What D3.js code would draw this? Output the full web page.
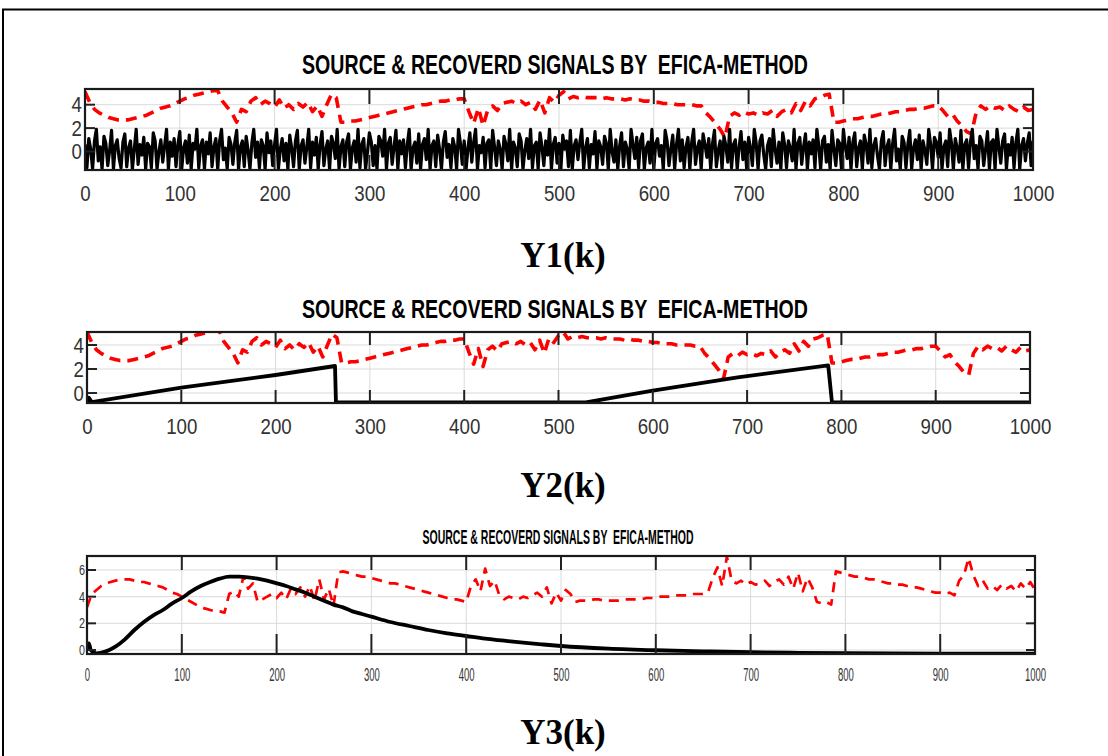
<!DOCTYPE html>
<html><head><meta charset="utf-8">
<script src="https://cdn.jsdelivr.net/npm/d3@7"></script>
<style>body{margin:0;background:#fff}svg{display:block}</style>
</head><body>
<script>
// ---------- DATA ----------
const xTicks = [0,100,200,300,400,500,600,700,800,900,1000];
const yTicks12 = [0,2,4];
const yTicks3 = [0,2,4,6];
const titleText = "SOURCE & RECOVERD SIGNALS BY  EFICA-METHOD";
const panelLabels = ["Y1(k)","Y2(k)","Y3(k)"];

// recovered (red dashed) signal of panels 1 and 2, sampled every 5 steps
const recoveredStep = 5;
const recovered12 = [
5.1,4.2,3.6,3.3,3.1,2.9,2.8,2.7,2.7,2.7,2.8,2.9,3.0,3.1,3.3,3.5,3.7,3.8,3.9,4.1,
4.3,4.5,4.6,4.8,4.9,5.0,5.1,5.2,5.2,4.3,3.8,3.3,2.5,3.6,3.4,4.3,4.6,4.0,4.3,4.1,
3.8,4.4,3.7,4.0,3.6,4.1,3.8,4.2,3.4,3.9,3.0,4.0,4.9,4.6,2.5,2.5,2.6,2.6,2.7,2.8,
2.9,3.0,3.1,3.2,3.3,3.4,3.5,3.6,3.7,3.8,3.9,4.0,4.0,4.1,4.2,4.3,4.3,4.4,4.4,4.5,
4.5,3.4,2.4,3.7,2.2,3.6,3.9,3.5,4.1,4.2,4.3,4.1,4.3,4.0,4.2,3.6,4.4,3.3,4.6,4.2,
4.8,5.1,4.5,4.7,4.6,4.7,4.6,4.6,4.6,4.5,4.6,4.5,4.5,4.5,4.4,4.5,4.4,4.4,4.3,4.3,
4.2,4.2,4.1,4.1,4.1,4.0,4.0,4.0,4.0,3.9,3.9,3.3,2.9,2.4,1.9,1.2,3.0,3.3,3.1,3.4,
3.2,3.3,3.1,3.3,3.2,3.5,3.0,3.4,3.6,3.3,4.1,3.5,4.3,3.9,4.5,4.6,4.8,4.9,2.5,2.5,
2.6,2.7,2.8,2.8,2.9,3.0,3.0,3.1,3.2,3.2,3.3,3.4,3.4,3.5,3.6,3.6,3.7,3.7,3.8,3.9,
3.9,3.5,3.0,3.2,2.6,2.2,1.7,1.5,3.3,3.9,3.6,3.9,3.7,3.8,3.5,3.9,3.6,3.4,3.8,3.5,
3.6];

// recovered (red dashed) signal of panel 3, sampled every 5 steps
const recovered3 = [
3.2,4.2,4.5,4.8,5.0,5.1,5.2,5.3,5.3,5.3,5.2,5.1,5.1,5.0,4.9,4.8,4.7,4.5,4.3,4.2,
4.0,3.8,3.6,3.4,3.2,3.1,3.0,2.9,2.9,2.8,4.2,4.4,4.0,5.5,4.6,5.0,3.6,3.8,4.0,4.2,
3.9,4.3,3.8,4.6,4.2,4.7,4.0,4.8,3.7,5.3,3.8,4.6,3.3,5.8,5.9,5.8,5.7,5.6,5.5,5.5,
5.4,5.3,5.2,5.1,5.0,5.0,4.9,4.8,4.7,4.6,4.5,4.4,4.3,4.2,4.1,4.0,3.9,3.8,3.8,3.7,
3.6,4.8,5.3,4.4,6.1,4.8,5.2,4.1,3.8,4.0,3.9,3.8,4.0,3.9,4.1,4.3,4.0,4.7,3.5,4.3,
3.7,4.5,4.2,3.6,3.7,3.7,3.7,3.8,3.8,3.7,3.7,3.7,3.7,3.8,3.8,3.8,3.8,3.8,3.9,3.9,
3.9,4.0,4.0,4.0,4.1,4.1,4.1,4.1,4.2,4.2,4.2,4.3,5.4,6.2,4.8,7.0,5.2,5.0,5.2,4.9,
5.1,4.9,5.0,5.2,4.8,5.1,5.3,4.9,5.5,4.6,5.8,4.4,5.4,4.7,3.6,3.5,3.6,3.4,5.9,5.8,
5.7,5.6,5.5,5.5,5.4,5.3,5.3,5.2,5.1,5.0,5.0,4.9,4.9,4.8,4.7,4.7,4.6,4.5,4.4,4.3,
4.3,4.2,4.3,4.1,5.2,5.6,6.9,5.6,4.8,5.2,4.6,4.8,4.5,4.9,4.6,4.8,4.4,5.0,4.6,5.1,
4.5];

// source 1 (black noise), sampled every 2 steps
const source1Step = 2;
const source1 = [
0.6,-1.4,1.1,0.2,-1.5,0.9,1.9,-0.8,0.4,-1.5,1.3,0.7,-1.2,0.1,1.8,-1.5,0.5,1.0,-0.6,-1.4,
0.8,1.5,-1.3,0.3,0.9,-1.5,0.2,1.9,-1.1,0.6,-0.3,1.2,-1.5,0.7,0.4,-1.4,1.6,0.9,-1.5,0.0,
1.0,-0.9,0.5,1.9,-1.5,0.8,-0.4,1.1,-1.3,0.6,1.7,-1.5,0.3,0.9,-1.0,1.4,-1.5,0.7,0.2,1.9,
-1.4,0.5,1.0,-1.5,0.8,-0.2,1.6,-1.3,0.4,1.1,-1.5,0.9,1.9,-0.7,0.3,-1.5,1.2,0.6,-1.1,0.8,
1.8,-1.5,0.4,0.9,-1.3,1.3,0.1,-1.5,0.7,1.9,-0.5,0.8,-1.4,1.0,0.5,-1.5,1.6,-0.1,0.9,-1.2,
0.6,1.9,-1.5,0.2,1.1,-0.8,0.7,-1.5,1.4,0.3,-1.3,0.9,1.8,-1.5,0.5,1.0,-1.0,0.4,1.9,-1.4,
0.8,-0.3,1.2,-1.5,0.6,1.7,-1.2,0.2,0.9,-1.5,1.3,0.7,-0.6,1.9,-1.5,0.4,1.0,-1.3,0.8,1.5,
-1.5,0.3,0.9,-0.9,1.9,-1.4,0.6,1.1,-1.5,0.0,1.6,0.8,-1.2,0.5,-1.5,1.3,0.9,-0.4,1.9,-1.5,
0.7,1.2,-1.1,0.4,1.8,-1.5,0.9,-0.2,1.0,-1.4,0.6,1.9,-1.5,0.3,0.8,-1.0,1.5,-1.5,0.6,1.1,
-0.7,1.9,-1.5,0.5,0.9,-1.3,1.4,0.2,-1.5,0.8,1.7,-0.5,0.6,-1.4,1.1,0.4,-1.5,1.9,0.7,-1.1,
0.9,-1.5,0.3,1.6,-0.9,0.8,1.9,-1.5,0.5,-0.1,1.2,-1.4,0.7,1.0,-1.5,1.8,0.4,-1.2,0.9,0.2,
-1.5,1.3,0.6,-0.8,1.9,-1.5,0.8,0.3,-1.3,1.5,0.9,-1.5,0.1,1.1,-0.6,1.9,-1.4,0.5,0.8,-1.5,
1.6,0.4,-1.2,0.9,-0.3,1.9,-1.5,0.6,1.2,-1.0,0.7,-1.5,1.4,0.2,0.9,-1.3,1.8,-1.5,0.5,1.0,
-0.7,0.8,1.9,-1.5,0.3,1.1,-1.4,0.6,-0.2,1.7,-1.5,0.9,0.4,-1.1,1.3,0.7,-1.5,1.9,0.0,-0.9,
1.0,-1.5,0.5,1.6,-1.3,0.8,0.2,-1.5,1.9,0.6,-0.6,1.2,-1.4,0.9,1.5,-1.5,0.3,0.8,-1.0,1.9,
-1.5,0.7,1.1,-0.4,0.5,-1.5,1.8,0.9,-1.2,0.2,1.4,-1.5,0.6,1.9,-0.8,1.0,-1.4,0.4,1.2,-1.5,
0.8,1.9,-1.1,0.3,0.9,-1.5,1.5,0.6,-0.5,1.1,-1.5,0.7,1.8,-1.3,0.1,0.9,-1.5,1.3,0.5,-0.9,
1.9,-1.4,0.6,1.0,-1.5,0.4,1.7,-0.7,0.8,-1.5,1.2,0.3,-1.2,1.9,0.7,-1.5,0.9,1.4,-0.3,-1.5,
0.5,1.1,-1.3,1.9,0.2,-1.0,0.8,-1.5,1.6,0.6,-1.4,0.9,0.3,-0.8,1.9,-1.5,0.7,1.2,-1.1,0.4,
1.5,-1.5,0.8,-0.2,1.0,-1.4,1.9,0.5,-1.5,0.9,1.3,-0.9,0.6,-1.5,1.8,0.2,-1.2,1.0,0.7,-1.5,
1.9,0.4,-0.6,1.2,-1.5,0.8,1.6,-1.3,0.3,0.9,-1.5,1.4,0.6,-1.0,1.9,-1.4,0.5,1.1,-0.4,-1.5,
0.9,1.7,-1.2,0.4,1.0,-1.5,0.7,1.9,-0.8,0.2,-1.5,1.3,0.8,-1.4,0.6,1.8,-1.5,0.3,1.0,-0.7,
1.4,-1.5,0.9,0.1,-1.1,1.9,0.6,-1.5,1.2,0.8,-0.5,1.6,-1.5,0.4,0.9,-1.3,1.9,0.7,-1.5,1.1,
0.3,-0.9,1.8,-1.5,0.6,1.0,-1.4,0.8,1.9,-0.6,0.5,-1.5,1.3,0.9,-1.2,0.2,1.7,-1.5,0.8,1.0,
-1.5,1.9,0.4,-1.0,0.9,1.5,-1.5,0.6,-0.3,1.2,-1.4,0.8,1.9,-1.5,0.5,1.1,-0.8,0.7,1.6,-1.2,
0.9];

// source 2 (black sawtooth) breakpoints
const source2K = [0,2,5,100,200,263,264,529,600,690,786,790,1000];
const source2V = [-0.78,-0.4,-0.75,0.45,1.5,2.25,-0.78,-0.78,0.2,1.3,2.3,-0.78,-0.78];

// source 3 (black smooth pulse)
const source3K = [0,2,4,10,20,30,40,50,60,70,80,90,100,110,120,130,140,150,160,170,180,190,200,210,220,230,240,250,260,270,280,290,300,320,340,360,380,400,420,440,460,480,500,550,600,650,700,750,800,850,900,950,1000];
const source3V = [0.0,0.5,0.0,-0.25,-0.1,0.25,0.8,1.5,2.1,2.6,3.0,3.5,3.9,4.4,4.8,5.1,5.35,5.5,5.5,5.45,5.35,5.2,5.0,4.8,4.55,4.3,4.0,3.7,3.4,3.2,2.9,2.7,2.5,2.1,1.8,1.5,1.25,1.05,0.85,0.7,0.55,0.42,0.3,0.1,-0.02,-0.1,-0.17,-0.21,-0.24,-0.26,-0.27,-0.28,-0.28];

// ---------- DRAW ----------
const W = 1108, H = 756;
const svg = d3.select("body").append("svg").attr("width", W).attr("height", H);
svg.append("rect").attr("width", W).attr("height", H).attr("fill", "#fff");
svg.append("rect").attr("x", 3).attr("y", 9.5).attr("width", 1300).attr("height", 900)
  .attr("fill", "none").attr("stroke", "#000").attr("stroke-width", 2);

const NARROW = "'Liberation Sans Narrow','Arial Narrow','Liberation Sans',sans-serif";

const panels = [
  { left:85, right:1033, top:89, bottom:170, yDomain:[-1.58,5.34], yTicks:yTicks12,
    titleY:74, titleSize:27, titleW:506, titleX:555,
    tickFont:22, xPad:15, yPad:3, tickTop:15, tickBot:15, tickY:10,
    labelY:267, xLabW:10.4, yLabW:10.4, yFont:22,
    red: recovered12, redW:3.6, redDash:"11,7",
    black: source1.map((v,i)=>[i*source1Step, v]), blackW:3.2, curve:d3.curveLinear },
  { left:87, right:1030, top:332, bottom:403, yDomain:[-0.83,5.08], yTicks:yTicks12,
    titleY:318, titleSize:25, titleW:506, titleX:555,
    tickFont:22, xPad:15, yPad:3, tickTop:13, tickBot:13, tickY:10,
    labelY:497, xLabW:10.4, yLabW:10.4, yFont:22,
    red: recovered12, redW:3.6, redDash:"11,7",
    black: source2K.map((k,i)=>[k, source2V[i]]), blackW:3.8, curve:d3.curveLinear },
  { left:87, right:1035, top:556, bottom:654, yDomain:[-0.3,7.05], yTicks:yTicks3,
    titleY:544, titleSize:20, titleW:271, titleX:558,
    tickFont:18, xPad:14, yPad:2, tickTop:14, tickBot:20, tickY:9,
    labelY:744, xLabW:5.3, yLabW:6, yFont:14,
    red: recovered3, redW:2.7, redDash:"10,7",
    black: source3K.map((k,i)=>[k, source3V[i]]), blackW:3.8, curve:d3.curveMonotoneX }
];

panels.forEach((p, pi) => {
  const x = d3.scaleLinear().domain([0,1000]).range([p.left, p.right]);
  const y = d3.scaleLinear().domain(p.yDomain).range([p.bottom, p.top]);
  const g = svg.append("g");

  // title
  g.append("text").attr("x", p.titleX).attr("y", p.titleY).attr("text-anchor","middle")
    .attr("font-family", NARROW).attr("font-weight","bold").attr("font-size", p.titleSize)
    .attr("textLength", p.titleW).attr("lengthAdjust","spacingAndGlyphs")
    .attr("fill","#000").style("white-space","pre").text(titleText);

  // grid
  g.selectAll(".gx").data(xTicks).join("line")
    .attr("x1", d=>x(d)).attr("x2", d=>x(d)).attr("y1", p.top).attr("y2", p.bottom)
    .attr("stroke","#dadada").attr("stroke-width",1);
  g.selectAll(".gy").data(p.yTicks).join("line")
    .attr("y1", d=>y(d)).attr("y2", d=>y(d)).attr("x1", p.left).attr("x2", p.right)
    .attr("stroke","#dadada").attr("stroke-width",1);

  // clip
  const cid = "clip"+pi;
  svg.append("clipPath").attr("id", cid).append("rect")
    .attr("x", p.left).attr("y", p.top).attr("width", p.right-p.left).attr("height", p.bottom-p.top);
  const plot = g.append("g").attr("clip-path", `url(#${cid})`);

  // red recovered
  const redLine = d3.line().x((d,i)=>x(i*recoveredStep)).y(d=>y(d));
  plot.append("path").attr("d", redLine(p.red)).attr("fill","none")
    .attr("stroke","#ff0000").attr("stroke-width", p.redW).attr("stroke-dasharray", p.redDash)
    .attr("stroke-linejoin","round");

  // black source
  const blackLine = d3.line().x(d=>x(d[0])).y(d=>y(d[1])).curve(p.curve);
  plot.append("path").attr("d", blackLine(p.black)).attr("fill","none")
    .attr("stroke","#000").attr("stroke-width", p.blackW).attr("stroke-linejoin","round");

  // inner ticks
  g.selectAll(".tt").data(xTicks).join("line")
    .attr("x1", d=>x(d)).attr("x2", d=>x(d)).attr("y1", p.top).attr("y2", p.top+p.tickTop)
    .attr("stroke","#222").attr("stroke-width",2);
  g.selectAll(".tb").data(xTicks).join("line")
    .attr("x1", d=>x(d)).attr("x2", d=>x(d)).attr("y1", p.bottom).attr("y2", p.bottom-p.tickBot)
    .attr("stroke","#222").attr("stroke-width",2);
  g.selectAll(".tl").data(p.yTicks).join("line")
    .attr("y1", d=>y(d)).attr("y2", d=>y(d)).attr("x1", p.left).attr("x2", p.left+p.tickY)
    .attr("stroke","#222").attr("stroke-width",2);
  g.selectAll(".tr").data(p.yTicks).join("line")
    .attr("y1", d=>y(d)).attr("y2", d=>y(d)).attr("x1", p.right).attr("x2", p.right-p.tickY)
    .attr("stroke","#222").attr("stroke-width",2);

  // box
  g.append("rect").attr("x", p.left).attr("y", p.top).attr("width", p.right-p.left)
    .attr("height", p.bottom-p.top).attr("fill","none").attr("stroke","#1a1a1a").attr("stroke-width",2.2);

  // axis labels
  const ax = g.append("g").attr("transform", `translate(0,${p.bottom})`)
    .call(d3.axisBottom(x).tickValues(xTicks).tickSize(0).tickPadding(p.xPad).tickFormat(d3.format("d")));
  const ay = g.append("g").attr("transform", `translate(${p.left},0)`)
    .call(d3.axisLeft(y).tickValues(p.yTicks).tickSize(0).tickPadding(p.yPad).tickFormat(d3.format("d")));
  [ax, ay].forEach(a => {
    a.select(".domain").remove();
    a.selectAll("text").attr("font-family", NARROW).attr("fill","#333");
  });
  ax.selectAll("text").attr("font-size", p.tickFont)
    .attr("textLength", d=>String(d).length*p.xLabW).attr("lengthAdjust","spacingAndGlyphs");
  ay.selectAll("text").attr("font-size", p.yFont)
    .attr("textLength", d=>String(d).length*p.yLabW).attr("lengthAdjust","spacingAndGlyphs");

  // panel label
  svg.append("text").attr("x", 563).attr("y", p.labelY).attr("text-anchor","middle")
    .attr("font-family","'Liberation Serif','Times New Roman',serif").attr("font-weight","bold")
    .attr("font-size", 35).attr("fill","#000").text(panelLabels[pi]);
});
</script>
</body></html>
